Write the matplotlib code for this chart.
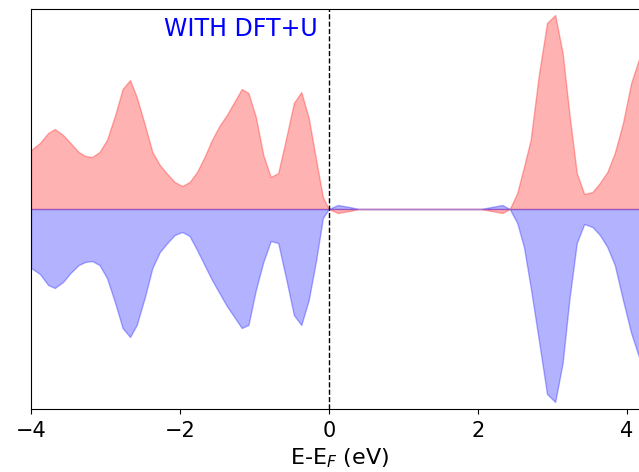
import matplotlib.pyplot as plt
import numpy as np

# энергия относительно уровня Ферми, эВ
E = np.array([-4.00, -3.88, -3.77, -3.68, -3.57, -3.47, -3.36, -3.27, -3.18, -3.08,
              -2.98, -2.87, -2.77, -2.67, -2.58, -2.47, -2.37, -2.27, -2.17, -2.07,
              -1.97, -1.87, -1.77, -1.67, -1.57, -1.47, -1.37, -1.27, -1.17, -1.08,
              -0.98, -0.88, -0.78, -0.68, -0.57, -0.47, -0.37, -0.27, -0.17, -0.08,
              0.00, 0.12, 0.28, 0.40, 1.00, 1.60, 2.04, 2.33, 2.43, 2.53,
              2.62, 2.71, 2.82, 2.93, 3.04, 3.14, 3.23, 3.33, 3.43, 3.54,
              3.64, 3.74, 3.84, 3.95, 4.06, 4.17, 4.27, 4.37])

# спин вверх
dos_up = np.array([0.59, 0.66, 0.76, 0.80, 0.74, 0.66, 0.57, 0.53, 0.52, 0.57,
                   0.69, 0.94, 1.20, 1.29, 1.12, 0.84, 0.57, 0.44, 0.35, 0.27,
                   0.23, 0.27, 0.37, 0.52, 0.69, 0.83, 0.94, 1.07, 1.20, 1.16,
                   0.92, 0.54, 0.32, 0.36, 0.72, 1.06, 1.17, 0.91, 0.49, 0.12,
                   0.00, -0.04, -0.02, 0.00, 0.00, 0.00, 0.00, -0.04, 0.00, 0.16,
                   0.42, 0.69, 1.34, 1.86, 1.94, 1.56, 0.96, 0.36, 0.15, 0.17,
                   0.26, 0.37, 0.56, 0.86, 1.26, 1.51, 1.62, 1.60])

# спин вниз
dos_down = np.array([-0.59, -0.65, -0.76, -0.79, -0.73, -0.64, -0.56, -0.53, -0.52, -0.56,
                     -0.69, -0.94, -1.19, -1.28, -1.16, -0.88, -0.59, -0.43, -0.34, -0.26,
                     -0.23, -0.27, -0.41, -0.56, -0.71, -0.84, -0.97, -1.08, -1.19, -1.16,
                     -0.81, -0.53, -0.32, -0.34, -0.71, -1.06, -1.16, -0.91, -0.51, -0.09,
                     0.00, 0.04, 0.02, 0.00, 0.00, 0.00, 0.00, 0.04, 0.00, -0.14,
                     -0.38, -0.78, -1.31, -1.85, -1.93, -1.54, -0.91, -0.34, -0.15, -0.18,
                     -0.26, -0.38, -0.56, -0.91, -1.24, -1.49, -1.62, -1.65])

fig = plt.figure(figsize=(6.39, 4.72), dpi=100)
# правая граница осей выходит за рисунок (как в исходнике)
ax = fig.add_axes([31 / 639, 63 / 472, 618 / 639, 400 / 472])

ax.fill_between(E, dos_up, color='red', alpha=0.3)
ax.fill_between(E, dos_down, color='blue', alpha=0.3)
ax.axvline(0, color='black', linestyle='--', linewidth=1)

ax.text(-0.15, 1.8, 'WITH DFT+U', color='blue', fontsize=17, ha='right', va='center')

ax.set_xlim(-4, 4.3)
ax.set_ylim(-2, 2)
ax.set_xticks([-4, -2, 0, 2, 4])
ax.set_yticks([])
ax.tick_params(axis='x', labelsize=15, pad=5)
ax.set_xlabel('E-E$_F$ (eV)', fontsize=16, labelpad=4)

fig.savefig('out.png', dpi=100)
